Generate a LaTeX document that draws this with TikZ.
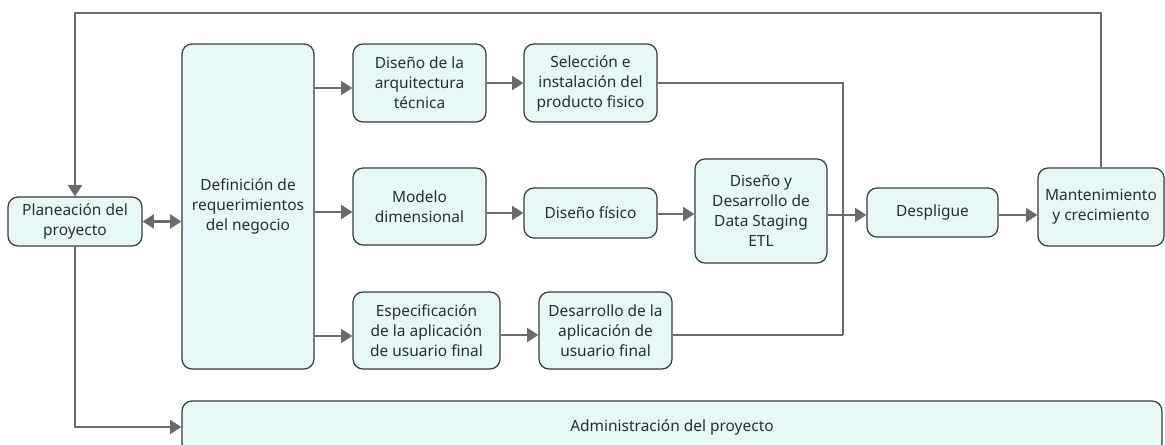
\documentclass[tikz,border=0pt]{standalone}
\usepackage{fontspec}
\setmainfont{Noto Sans}
\usetikzlibrary{arrows.meta,calc}
\definecolor{boxfill}{RGB}{232,247,248}
\definecolor{boxdraw}{RGB}{58,58,58}
\definecolor{txt}{RGB}{45,45,45}
\definecolor{conn}{RGB}{107,107,107}
\tikzset{
  box/.style={draw=boxdraw, fill=boxfill, line width=0.9pt, rounded corners=7.5pt,
    inner sep=0pt, align=center, text=txt,
    font=\fontsize{11.6pt}{15pt}\selectfont},
  arr/.style={draw=conn, line width=1.7pt, -{Triangle[length=8.5pt,width=10.5pt]}},
  darr/.style={draw=conn, line width=1.7pt, {Triangle[length=8.5pt,width=10.5pt]}-{Triangle[length=8.5pt,width=10.5pt]}},
  ln/.style={draw=conn, line width=1.7pt}
}
\begin{document}
\begin{tikzpicture}[x=0.75pt,y=-0.75pt]
\useasboundingbox (0,0) rectangle (1165,445);
\fill[white] (0,0) rectangle (1165,445);
% nodes
\node[box, minimum width=100.5pt, minimum height=36.75pt] (plan) at (75,221.5) {Planeación del\\proyecto};
\node[box, minimum width=99pt, minimum height=243.75pt] (defin) at (248,206.5) {Definición de\\requerimientos\\del negocio};
\node[box, minimum width=99.75pt, minimum height=58.5pt] (arq) at (419.5,83) {Diseño de la\\arquitectura\\técnica};
\node[box, minimum width=99.75pt, minimum height=58.5pt] (sel) at (590.5,83) {Selección e\\instalación del\\producto fisico};
\node[box, minimum width=99.75pt, minimum height=57.75pt] (mod) at (419.5,206.5) {Modelo\\dimensional};
\node[box, minimum width=99.75pt, minimum height=37.5pt] (fis) at (590.5,213) {Diseño físico};
\node[box, minimum width=99pt, minimum height=78pt] (etl) at (761,211) {Diseño y\\Desarrollo de\\Data Staging\\ETL};
\node[box, minimum width=98.25pt, minimum height=36.75pt] (desp) at (932.5,212.5) {Despligue};
\node[box, minimum width=94.5pt, minimum height=58.5pt] (mant) at (1101,207) {Mantenimiento\\y crecimiento};
\node[box, minimum width=110.25pt, minimum height=57.75pt] (esp) at (426.5,330.5) {Especificación\\de la aplicación\\de usuario final};
\node[box, minimum width=99.75pt, minimum height=57.75pt] (des) at (605.5,330.5) {Desarrollo de la\\aplicación de\\usuario final};
\node[box, minimum width=735pt, minimum height=39pt] (adm) at (672,427) {Administración del proyecto};
% helper coordinates
\coordinate (top) at (600,13);
\coordinate (merge) at (843,335);
% connectors
\draw[arr] (mant.north) |- (top) -| (plan.north);
\draw[darr] (plan.east) -- (defin.west |- plan.east);
\draw[arr] (plan.south) |- (adm.west);
\draw[arr] ($(defin.east)+(0,-118.5)$) -- ($(arq.west)+(0,5)$);
\draw[arr] (arq.east) -- (sel.west);
\draw[arr] ($(defin.east)+(0,5.5)$) -- ($(mod.west)+(0,5.5)$);
\draw[arr] (mod.east |- fis.west) -- (fis.west);
\draw[arr] (fis.east |- 0,214) -- (etl.west |- 0,214);
\draw[arr] (etl.east |- 0,215) -- (desp.west |- 0,215);
\draw[arr] (desp.east |- 0,215) -- (mant.west |- 0,215);
\draw[arr] (defin.east |- 0,336) -- (esp.west |- 0,336);
\draw[arr] (esp.east |- 0,335) -- (des.west |- 0,335);
\draw[ln] (sel.east) -| (merge);
\draw[ln] (des.east |- merge) -- (merge);
\end{tikzpicture}
\end{document}
